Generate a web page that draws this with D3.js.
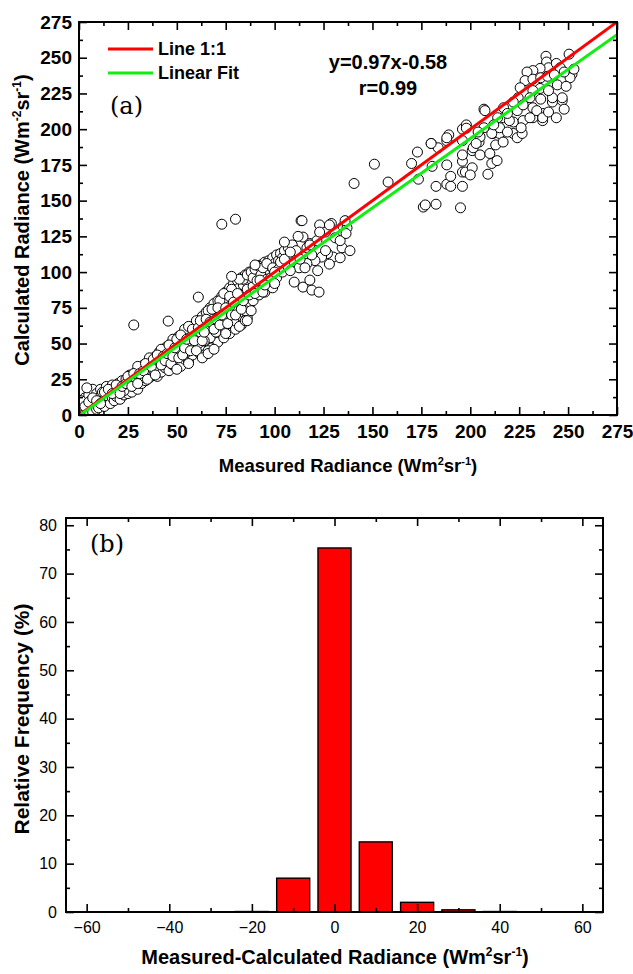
<html>
<head>
<meta charset="utf-8">
<style>
  body { margin: 0; background: #fff; }
  text { font-family: "Liberation Sans", Arial, sans-serif; }
</style>
</head>
<body>
<script src="https://d3js.org/d3.v7.min.js"></script>
<script>

// ---- panel (a): measured vs calculated radiance ----
var scatterPoints = [
  // dense band, 0 - 110
  [1,2],[2,5],[2,9],[3,1],[3,12],[4,4],[4,8],[5,3],[5,14],[6,6],[6,10],[7,2],[7,18],[8,7],[8,12],
  [9,4],[9,15],[10,9],[10,5],[11,13],[11,18],[12,8],[12,16],[4,19],[1,10],
  [13,11],[13,6],[14,15],[14,20],[15,10],[15,13],[16,17],[16,8],[17,12],[17,21],[18,15],[18,10],
  [19,18],[19,13],[20,22],[20,16],[21,11],[21,19],[22,17],[22,24],[23,14],[23,20],[24,18],[24,25],
  [25,15],[25,21],[26,28],[26,19],
  [27,23],[27,16],[28,25],[28,20],[29,30],[29,22],[30,27],[30,18],[31,25],[31,33],[32,29],[32,22],
  [33,35],[33,27],[34,31],[34,24],[35,37],[35,28],[36,33],[36,26],[37,39],[37,30],[38,35],[38,29],
  [39,41],[39,32],[40,37],[40,27],[41,44],[41,34],
  [42,39],[42,30],[43,46],[43,36],[44,41],[44,33],[45,48],[45,38],[46,44],[46,31],[47,50],[47,40],
  [48,46],[48,35],[49,52],[49,42],[50,48],[50,37],[51,55],[51,44],[52,50],[52,34],[53,57],[53,46],
  [54,52],[54,39],[55,59],[55,48],[56,54],[56,37],
  [57,61],[57,50],[58,56],[58,42],[59,63],[59,47],[60,58],[60,52],[61,66],[61,44],[62,61],[62,54],
  [63,69],[63,48],[64,64],[64,42],[65,72],[65,57],[66,67],[66,50],[67,75],[67,60],[68,70],[68,47],
  [69,78],[69,55],[70,73],[70,63],[71,80],[71,51],
  [72,76],[72,58],[73,83],[73,66],[74,79],[74,54],[75,86],[75,62],[76,81],[76,70],[77,89],[77,57],
  [78,84],[78,65],[79,92],[79,74],[80,87],[80,60],[81,94],[81,68],[82,89],[82,78],[83,96],[83,63],
  [84,91],[84,72],[85,98],[85,82],[86,93],[86,68],[87,100],[87,77],[88,95],[88,86],[89,101],[89,80],[90,97],
  [91,103],[91,88],[92,99],[92,84],[93,105],[94,91],[95,107],[95,86],[96,101],[97,108],[97,93],[98,104],
  [99,110],[99,89],[100,106],[101,112],[101,96],[102,108],[103,113],[104,100],[104,110],[105,115],
  [106,104],[107,117],[108,111],[109,119],[110,107],[111,115],
  [20,19],[23,17],[26,23],[29,26],[32,26],[35,32],[38,32],[41,38],[44,44],[47,44],[50,44],[53,50],
  [56,58],[59,55],[62,58],[65,62],[68,64],[71,68],[74,72],[77,76],[80,80],[83,84],[86,88],[89,90],
  [30,34],[36,40],[42,46],[48,53],[54,60],[60,66],[66,73],[72,80],[78,88],[84,95],[55,44],[61,50],
  [67,54],[73,60],[79,66],[85,73],[70,58],[64,52],
  [3,6],[5,9],[7,12],[9,10],[11,8],[13,16],[15,18],[17,15],[19,21],[21,15],[22,20],[24,22],[25,27],
  [27,20],[28,29],[30,22],[31,29],[33,31],[34,36],[35,25],[37,34],[38,39],[39,28],[40,42],[42,35],
  [43,41],[44,38],[45,43],[46,49],[47,36],[48,41],[49,47],[50,53],[51,40],[52,56],[53,42],[54,47],
  [55,53],[56,62],[57,45],[58,60],[59,52],[60,45],[61,61],[62,66],[63,52],[64,58],[65,67],[66,45],
  [67,65],[68,74],[69,60],[70,67],[71,75],[72,63],[73,70],[74,85],[75,57],[75,75],[76,64],[77,83],
  [78,70],[79,79],[80,70],[81,85],[82,62],[82,95],[83,74],[84,80],[85,66],[86,98],[87,84],[88,73],
  [88,100],[89,96],[90,85],[90,102],[91,94],[92,104],[93,98],[94,86],[94,103],[96,95],[96,106],
  [98,96],[99,103],[100,92],[102,102],[103,107],[105,109],[63,40],[66,43],[69,46],[50,32],[56,36],
  // outliers in the lower part
  [28,63],[45.6,65.7],[61,82.5],[73,133.5],[80,137],[78,97],[86,66],
  // 110 - 145
  [112.5,103],[113.5,136],[114.5,89.5],[119,87.4],[122.7,86],
  [114,136],[123,133],[129,134],[135,132],[137,131],[131,124],[134.5,117],[130,110.5],[127,113],
  [124,110.5],[120.6,108],[116.5,106],[114.5,124.5],[118,120],[121.6,122],[116.5,117],[126,128],
  [113,109],[118,119],[123,128],[128,133],[133.5,122],[136,136],[108,114],[105,121],[112,125],
  [119,112],[126,115],[128,105.6],[115.5,103],[122,101],[133.5,110],[138.5,115],[136.5,127],[108,101],
  [92.5,94.4],[90,105],[95,91],[100,100],[110,93],[118,94.4],
  // 140 - 200
  [140.6,162],[151,175.5],[158,163],[170,176],[173,184],[173.5,165],[180.5,174],[180,190],[182.5,160],
  [176,145.5],[177,147],[182.5,147.5],[195,145],[188,161.5],[190,160],[196,160],[188,175],[190,167],
  [196,170],[197.5,170],[196,177.6],[201,173],[200,168],[188,192],[189,196],[196,200],[201,185],
  [204.5,191],[205,182],[210,183],[211,176],[209,168.5],[213.7,178],
  // upper cluster 200 - 255
  [207,214],[198,203],[211.6,197],[215,197],[213,189],[216.8,191],[217,208],[222,197],[224,194],
  [226.5,197],[222,205],[227,206],[232,208],[237,206],[237,211],[232,215],[242,219],[247,220],
  [238.7,251],[250.5,252.5],[252,238.5],[251,236],[247,222],[242,222],[244.5,231],[239,247],[240,243],
  [244,246],[246,243],[248,240],[235.7,242.5],[232,241],[229,240],[228,234],[232,235],[236,236],
  [239.5,237],[235.7,228.5],[232,227],[240,227],[230.5,222],[225.5,229],[224.5,222],[222,219],[224,213],
  [217,215],[214,208],[215,201],[220,206],[219,198],[226,201],[230.5,208],[234,213],[237,208],[236,221],
  [211,197],[207.5,213],[207,201],[205,194.6],[201.5,187],[198,200.7],[196,192],[188,194],[183.6,187],
  [180,190],[203,190],[196,182],[240,212],[244,208],[248,214],[253,242],[249,230],[243,238],[227,217],
  [219,211],[212,203],[204,198]
];
var axisTicksA = [0, 25, 50, 75, 100, 125, 150, 175, 200, 225, 250, 275];
var fitSlope = 0.97, fitIntercept = -0.58;

// ---- panel (b): histogram of measured - calculated ----
var histBins = [-20, -10, 0, 10, 20, 30, 40];
var histFreq = [0.1, 7.0, 75.3, 14.5, 2.0, 0.45, 0.1];
var axisTicksBx = [-60, -40, -20, 0, 20, 40, 60];
var axisTicksBy = [0, 10, 20, 30, 40, 50, 60, 70, 80];

var W = 633, H = 974;
var svg = d3.select('body').append('svg')
    .attr('width', W)
    .attr('height', H)
    .style('background', '#fff');

// helper: inward ticks on all four sides, major + minor
function frameAxes(g, x, y, opt) {
  var x0 = x.range()[0], x1 = x.range()[1];
  var y0 = y.range()[0], y1 = y.range()[1];

  g.append('g').attr('transform', 'translate(0,' + y0 + ')')
    .call(d3.axisBottom(x).tickValues(opt.xMajor).tickSize(-8).tickPadding(opt.xPad).tickFormat(opt.xFmt))
    .call(styleAxis, opt);
  g.append('g').attr('transform', 'translate(0,' + y0 + ')')
    .call(d3.axisBottom(x).tickValues(opt.xMinor).tickSize(-4).tickFormat(''))
    .call(styleAxis, opt);
  g.append('g').attr('transform', 'translate(0,' + y1 + ')')
    .call(d3.axisTop(x).tickValues(opt.xMajor).tickSize(-8).tickFormat(''))
    .call(styleAxis, opt);
  g.append('g').attr('transform', 'translate(0,' + y1 + ')')
    .call(d3.axisTop(x).tickValues(opt.xMinor).tickSize(-4).tickFormat(''))
    .call(styleAxis, opt);

  g.append('g').attr('transform', 'translate(' + x0 + ',0)')
    .call(d3.axisLeft(y).tickValues(opt.yMajor).tickSize(-8).tickPadding(opt.yPad).tickFormat(opt.yFmt))
    .call(styleAxis, opt);
  g.append('g').attr('transform', 'translate(' + x0 + ',0)')
    .call(d3.axisLeft(y).tickValues(opt.yMinor).tickSize(-4).tickFormat(''))
    .call(styleAxis, opt);
  g.append('g').attr('transform', 'translate(' + x1 + ',0)')
    .call(d3.axisRight(y).tickValues(opt.yMajor).tickSize(-8).tickFormat(''))
    .call(styleAxis, opt);
  g.append('g').attr('transform', 'translate(' + x1 + ',0)')
    .call(d3.axisRight(y).tickValues(opt.yMinor).tickSize(-4).tickFormat(''))
    .call(styleAxis, opt);

  // frame
  g.append('rect')
    .attr('x', x0).attr('y', y1)
    .attr('width', x1 - x0).attr('height', y0 - y1)
    .attr('fill', 'none').attr('stroke', '#000').attr('stroke-width', 2);
}

function styleAxis(sel, opt) {
  sel.select('.domain').remove();
  sel.selectAll('.tick line').attr('stroke', '#000').attr('stroke-width', 1.6);
  sel.selectAll('.tick text')
    .attr('fill', '#000')
    .style('font-size', opt.fontSize + 'px')
    .style('font-weight', opt.fontWeight);
}

// title with superscripts; every tspan carries its own dy
function titleText(sel, parts, size) {
  var shift = 0;
  var up = Math.round(size * 0.4);
  parts.forEach(function(p) {
    var target = p.sup ? -up : 0;
    var t = sel.append('tspan').attr('dy', target - shift).text(p.sup || p.t);
    if (p.sup) t.style('font-size', Math.round(size * 0.62) + 'px');
    shift = target;
  });
}

// =============== panel (a) ===============
var xA = d3.scaleLinear().domain([0, 275]).range([79, 617]);
var yA = d3.scaleLinear().domain([0, 275]).range([415, 22]);

var gA = svg.append('g');

gA.append('clipPath').attr('id', 'clipA')
  .append('rect')
  .attr('x', xA(0)).attr('y', yA(275))
  .attr('width', xA(275) - xA(0)).attr('height', yA(0) - yA(275));

var plotA = gA.append('g').attr('clip-path', 'url(#clipA)');

plotA.selectAll('circle')
  .data(scatterPoints)
  .enter()
  .append('circle')
  .attr('cx', function(d){ return xA(d[0]); })
  .attr('cy', function(d){ return yA(d[1]); })
  .attr('r', 5)
  .attr('fill', '#fff')
  .attr('stroke', '#000')
  .attr('stroke-width', 1);

// line 1:1
plotA.append('line')
  .attr('x1', xA(0)).attr('y1', yA(0))
  .attr('x2', xA(275)).attr('y2', yA(275))
  .attr('stroke', '#ff0000').attr('stroke-width', 3);

// linear fit
plotA.append('line')
  .attr('x1', xA(0)).attr('y1', yA(fitIntercept))
  .attr('x2', xA(275)).attr('y2', yA(fitSlope * 275 + fitIntercept))
  .attr('stroke', '#11ee11').attr('stroke-width', 3);

var minorA = d3.range(12.5, 275, 25);
frameAxes(gA, xA, yA, {
  xMajor: axisTicksA, xMinor: minorA, yMajor: axisTicksA, yMinor: minorA,
  xPad: 10, yPad: 7, xFmt: d3.format('d'), yFmt: d3.format('d'),
  fontSize: 19, fontWeight: 'bold'
});

// legend
var legend = [{label: 'Line 1:1', color: '#ff0000', y: 49}, {label: 'Linear Fit', color: '#11ee11', y: 73}];
legend.forEach(function(l) {
  gA.append('line')
    .attr('x1', 108).attr('x2', 153).attr('y1', l.y).attr('y2', l.y)
    .attr('stroke', l.color).attr('stroke-width', 3);
  gA.append('text')
    .attr('x', 158).attr('y', l.y + 6)
    .style('font-size', '18px').style('font-weight', 'bold')
    .text(l.label);
});

gA.append('text')
  .attr('x', 110).attr('y', 114)
  .style('font-family', '"DejaVu Serif", serif').style('font-size', '24px')
  .text('(a)');

gA.append('text')
  .attr('x', 388).attr('y', 69).attr('text-anchor', 'middle')
  .style('font-size', '20px').style('font-weight', 'bold')
  .text('y=' + fitSlope + 'x' + fitIntercept);
gA.append('text')
  .attr('x', 388).attr('y', 95).attr('text-anchor', 'middle')
  .style('font-size', '20px').style('font-weight', 'bold')
  .text('r=0.99');

// axis titles
var xtA = gA.append('text')
  .attr('x', 348).attr('y', 472).attr('text-anchor', 'middle')
  .style('font-size', '18.5px').style('font-weight', 'bold');
titleText(xtA, [{t: 'Measured Radiance (Wm'}, {sup: '2'}, {t: 'sr'}, {sup: '-1'}, {t: ')'}], 18.5);

var ytA = gA.append('text')
  .attr('transform', 'translate(29,220) rotate(-90)').attr('text-anchor', 'middle')
  .style('font-size', '20px').style('font-weight', 'bold');
titleText(ytA, [{t: 'Calculated Radiance (Wm'}, {sup: '-2'}, {t: 'sr'}, {sup: '-1'}, {t: ')'}], 20);

// =============== panel (b) ===============
var xB = d3.scaleLinear().domain([-65, 65]).range([66, 603]);
var yB = d3.scaleLinear().domain([0, 81.5]).range([912, 518]);
var barWidth = 8;

var gB = svg.append('g');

gB.selectAll('rect.bar')
  .data(histBins)
  .enter()
  .append('rect')
  .attr('class', 'bar')
  .attr('x', function(d){ return xB(d - barWidth / 2); })
  .attr('width', function(d){ return xB(d + barWidth / 2) - xB(d - barWidth / 2); })
  .attr('y', function(d, i){ return yB(histFreq[i]); })
  .attr('height', function(d, i){ return yB(0) - yB(histFreq[i]); })
  .attr('fill', '#ff0000')
  .attr('stroke', '#000')
  .attr('stroke-width', 1.4);

frameAxes(gB, xB, yB, {
  xMajor: axisTicksBx, xMinor: d3.range(-50, 60, 20),
  yMajor: axisTicksBy, yMinor: d3.range(5, 81, 10),
  xPad: 10, yPad: 9, xFmt: d3.format('d'), yFmt: d3.format('d'),
  fontSize: 16, fontWeight: 'normal'
});

gB.append('text')
  .attr('x', 90).attr('y', 552)
  .style('font-family', '"DejaVu Serif", serif').style('font-size', '24px')
  .text('(b)');

var xtB = gB.append('text')
  .attr('x', 335).attr('y', 964).attr('text-anchor', 'middle')
  .style('font-size', '20px').style('font-weight', 'bold');
titleText(xtB, [{t: 'Measured-Calculated Radiance (Wm'}, {sup: '2'}, {t: 'sr'}, {sup: '-1'}, {t: ')'}], 20);

gB.append('text')
  .attr('transform', 'translate(29,719) rotate(-90)').attr('text-anchor', 'middle')
  .style('font-size', '21px').style('font-weight', 'bold')
  .text('Relative Frequency (%)');

</script>
</body>
</html>
